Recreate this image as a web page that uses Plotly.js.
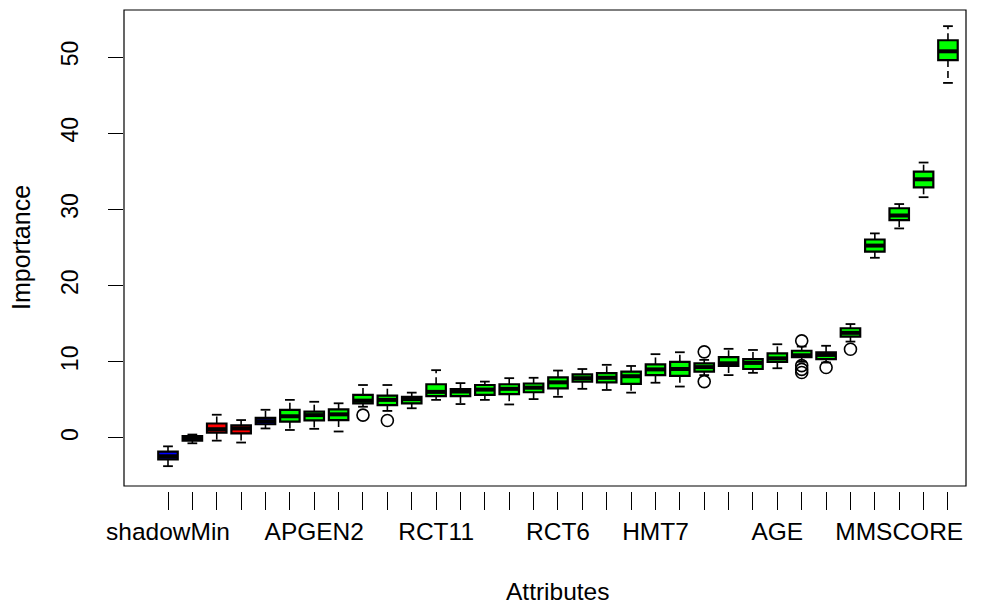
<!DOCTYPE html>
<html>
<head>
<meta charset="utf-8">
<script src="https://cdn.plot.ly/plotly-3.0.1.min.js"></script>
<style>html,body{margin:0;padding:0;background:#fff;}#chart{width:982px;height:605px;}</style>
</head>
<body>
<div id="chart"></div>
<script>
// ---- data ----
const positions = [1,2,3,4,5,6,7,8,9,10,11,12,13,14,15,16,17,18,19,20,21,22,23,24,25,26,27,28,29,30,31,32,33];
const tickLabels = ["shadowMin","","","","","","APGEN2","","","","","RCT11","","","","","RCT6","","","","HMT7","","","","","AGE","","","","","MMSCORE","",""];
const decision = ["shadow","shadow","rejected","rejected","shadow","confirmed","confirmed","confirmed","confirmed","confirmed","confirmed","confirmed","confirmed","confirmed","confirmed","confirmed","confirmed","confirmed","confirmed","confirmed","confirmed","confirmed","confirmed","confirmed","confirmed","confirmed","confirmed","confirmed","confirmed","confirmed","confirmed","confirmed","confirmed"];
const lowerFence = [-3.7,-0.7,-0.35,-0.6,1.25,1.05,1.2,0.85,4.1,3.55,3.9,5.0,4.45,5.0,4.4,5.1,5.4,6.45,6.3,5.95,7.25,6.75,8.25,8.25,8.55,9.15,10.0,9.9,12.65,23.65,27.5,31.6,46.6];
const q1 = [-2.8,-0.35,0.7,0.6,1.8,2.15,2.3,2.35,4.55,4.3,4.55,5.5,5.5,5.65,5.75,6.0,6.5,7.4,7.3,7.1,8.25,8.15,8.7,9.45,9.05,10.0,10.6,10.35,13.3,24.45,28.6,32.9,49.6];
const median = [-2.4,0.0,1.15,1.25,2.2,2.85,3.0,3.1,4.9,5.0,5.1,6.05,6.1,6.35,6.45,6.6,7.3,7.85,7.9,8.1,9.0,9.05,9.3,9.8,9.85,10.45,10.85,10.9,13.8,25.25,29.2,33.95,50.75];
const q3 = [-1.8,0.25,1.9,1.65,2.65,3.7,3.45,3.75,5.65,5.55,5.4,7.05,6.4,6.95,7.05,7.15,7.95,8.35,8.5,8.7,9.65,10.0,9.8,10.6,10.35,11.1,11.45,11.25,14.4,26.05,30.15,34.95,52.2];
const upperFence = [-1.1,0.45,3.05,2.35,3.7,5.0,4.75,4.55,6.95,6.95,5.95,8.9,7.2,7.4,7.85,7.9,8.85,9.05,9.6,9.45,11.0,11.25,10.25,11.7,11.55,12.3,12.0,12.1,14.95,26.85,30.7,36.15,54.05];
const outlierPos = [9,10,23,23,27,27,27,27,28,29];
const outlierVal = [3.0,2.3,11.3,7.4,12.75,9.5,9.0,8.6,9.25,11.65];
const colorOf = {shadow:"#0000FF", rejected:"#FF0000", tentative:"#FFFF00", confirmed:"#00FF00"};

// ---- build traces ----
const boxWidth = 0.8, stapleHalf = 0.2;
const traces = [];
// dashed whiskers (R lty = 2)
const wx = [], wy = [], sx = [], sy = [];
positions.forEach(function(p,i){
  wx.push(p, p, null, p, p, null);
  wy.push(q3[i], upperFence[i], null, q1[i], lowerFence[i], null);
  sx.push(p-stapleHalf, p+stapleHalf, null, p-stapleHalf, p+stapleHalf, null);
  sy.push(upperFence[i], upperFence[i], null, lowerFence[i], lowerFence[i], null);
});
traces.push({type:"scatter", mode:"lines", x:wx, y:wy, line:{color:"#000000", width:1.6, dash:"7px,4px"}, hoverinfo:"skip", showlegend:false});
traces.push({type:"scatter", mode:"lines", x:sx, y:sy, line:{color:"#000000", width:1.8}, hoverinfo:"skip", showlegend:false});
// boxes (fences collapsed to the hinges so that whiskers come from the dashed trace)
["shadow","rejected","confirmed"].forEach(function(g){
  const sel = positions.map(function(p,i){return i;}).filter(function(i){return decision[i]===g;});
  traces.push({
    type:"box",
    x: sel.map(function(i){return positions[i];}),
    q1: sel.map(function(i){return q1[i];}),
    median: sel.map(function(i){return median[i];}),
    q3: sel.map(function(i){return q3[i];}),
    lowerfence: sel.map(function(i){return q1[i];}),
    upperfence: sel.map(function(i){return q3[i];}),
    width: boxWidth,
    whiskerwidth: 0,
    fillcolor: colorOf[g],
    line:{color:"#000000", width:2.2},
    boxpoints:false,
    hoverinfo:"skip",
    showlegend:false
  });
});
// thick median bars (R medlwd = 3)
const mx = [], my = [];
positions.forEach(function(p,i){ mx.push(p-boxWidth/2, p+boxWidth/2, null); my.push(median[i], median[i], null); });
traces.push({type:"scatter", mode:"lines", x:mx, y:my, line:{color:"#000000", width:4}, hoverinfo:"skip", showlegend:false});
traces.push({type:"scatter", mode:"markers", x:outlierPos, y:outlierVal,
  marker:{symbol:"circle-open", size:12, color:"#000000", line:{width:1.6}}, hoverinfo:"skip", showlegend:false});

const F = "Liberation Sans, Arial, sans-serif";
const layout = {
  width:982, height:605,
  margin:{l:124, r:16, t:10, b:114},
  paper_bgcolor:"#ffffff", plot_bgcolor:"#ffffff",
  boxmode:"overlay",
  showlegend:false,
  font:{family:F, size:24, color:"#000000"},
  xaxis:{
    range:[-0.805, 33.74], showgrid:false, zeroline:false, showline:false,
    tickmode:"array", tickvals:positions, ticktext:tickLabels,
    ticks:"outside", ticklen:18, tickwidth:1, tickcolor:"#000000",
    tickangle:0, ticklabelstandoff:1,
    tickfont:{family:F, size:24.5, color:"#000000"}
  },
  yaxis:{
    range:[-6.96, 56.17], showgrid:false, zeroline:false, showline:false,
    tickmode:"array", tickvals:[0,10,20,30,40,50], ticktext:["0","10","20","30","40","50"],
    ticks:"outside", ticklen:15, tickwidth:1, tickcolor:"#000000",
    tickangle:-90, ticklabelstandoff:21,
    tickfont:{family:F, size:23, color:"#000000"}
  },
  shapes:[{type:"rect", xref:"paper", yref:"paper", x0:0, x1:1, y0:5/481, y1:1,
    line:{color:"#000000", width:1.2}, fillcolor:"rgba(0,0,0,0)", layer:"above"}],
  annotations:[
    {text:"Attributes", xref:"paper", yref:"paper", x:(558-124)/842, y:-(591-491)/481,
     xanchor:"center", yanchor:"middle", showarrow:false, font:{family:F, size:24.5, color:"#000000"}},
    {text:"Importance", xref:"paper", yref:"paper", x:-(124-21)/842, y:(491-248)/481,
     xanchor:"center", yanchor:"middle", textangle:-90, showarrow:false, font:{family:F, size:25, color:"#000000"}}
  ]
};
Plotly.newPlot("chart", traces, layout, {displayModeBar:false, staticPlot:true});
</script>
</body>
</html>
